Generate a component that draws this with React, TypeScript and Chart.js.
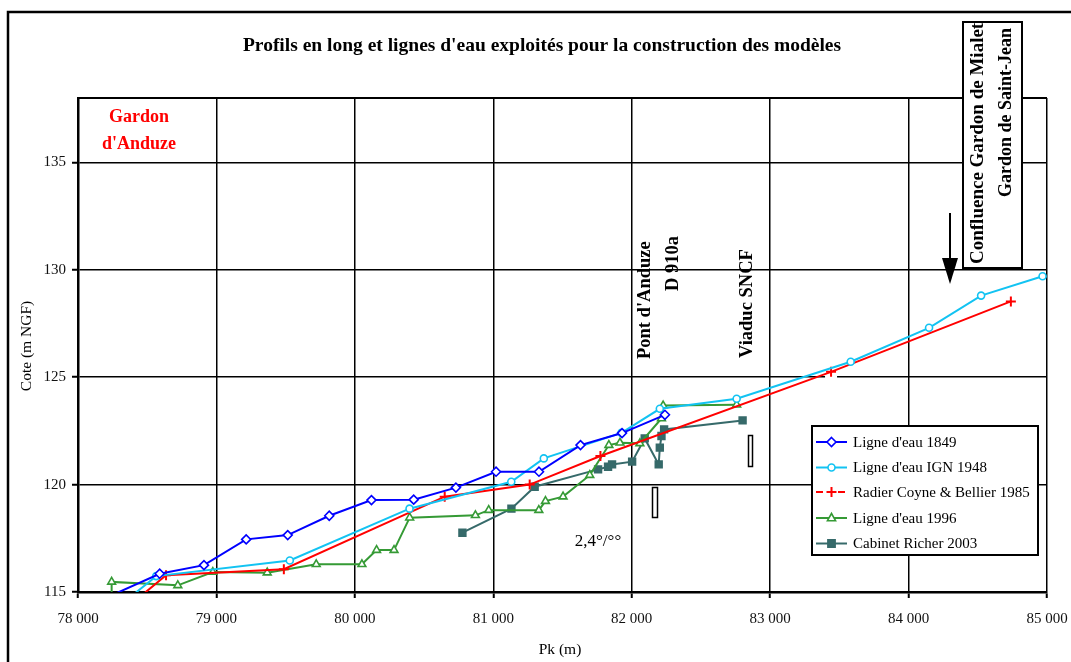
import React, { useEffect, useRef } from 'react';
import { Chart, registerables } from 'chart.js';

Chart.register(...registerables);

// ---------- data (Pk in m, Cote in m NGF) ----------
const pk1849 = [78020, 78590, 78910, 79215, 79515, 79815, 80120, 80425, 80730, 81020, 81330, 81630, 81930, 82240];
const cote1849 = [114.2, 115.85, 116.25, 117.45, 117.65, 118.55, 119.28, 119.3, 119.86, 120.6, 120.6, 121.84, 122.4, 123.25];

const pk1948 = [78270, 78565, 79530, 80395, 81130, 81365, 81926, 82203, 82758, 83582, 84148, 84524, 84968];
const cote1948 = [114.2, 115.74, 116.47, 118.88, 120.13, 121.22, 122.41, 123.53, 124.0, 125.72, 127.3, 128.8, 129.7];

const pk1985 = [78340, 78636, 79487, 80649, 81263, 81774, 83440, 84739];
const cote1985 = [114.2, 115.78, 116.06, 119.44, 120.0, 121.33, 125.25, 128.53];

const pk1996 = [78243, 78243, 78721, 78974, 79367, 79721, 80051, 80157, 80283, 80396, 80871, 80967, 81329, 81377, 81504, 81697, 81835, 81915, 82059, 82215, 82227, 82758];
const cote1996 = [114.0, 115.47, 115.31, 115.93, 115.9, 116.29, 116.29, 116.95, 116.95, 118.46, 118.57, 118.81, 118.81, 119.23, 119.44, 120.44, 121.84, 121.95, 121.92, 123.08, 123.68, 123.72];

const pk2003 = [80777, 81131, 81299, 81757, 81829, 81858, 82003, 82094, 82195, 82203, 82215, 82234, 82801];
const cote2003 = [117.76, 118.88, 119.9, 120.71, 120.83, 120.94, 121.07, 122.15, 120.94, 121.72, 122.26, 122.57, 122.99];

const seriesLabels = ["Ligne d'eau 1849", "Ligne d'eau IGN 1948", 'Radier Coyne & Bellier 1985', "Ligne d'eau 1996", 'Cabinet Richer 2003'];

const xMin = 78000;
const xMax = 85000;
const xStep = 1000;
const yMin = 115;
const yMax = 138;
const yStep = 5;

const TITLE = "Profils en long et lignes d'eau exploités pour la construction des modèles";
const X_TITLE = 'Pk (m)';
const Y_TITLE = 'Cote (m NGF)';

const FONT = "'Liberation Serif', 'Times New Roman', serif";

function toPoints(xs: number[], ys: number[]) {
  return xs.map((x, i) => ({ x, y: ys[i] }));
}

function fmtPk(v: number) {
  const th = Math.floor(v / 1000);
  const rest = String(Math.round(v % 1000)).padStart(3, '0');
  return `${th} ${rest}`;
}

const styles = [
  { color: '#0000FF', point: 'rectRot', radius: 4.5, fill: '#FFFFFF' },
  { color: '#12C3F2', point: 'circle', radius: 3.5, fill: '#FFFFFF' },
  { color: '#FF0000', point: 'cross', radius: 5, fill: '#FF0000' },
  { color: '#359A35', point: 'triangle', radius: 4.5, fill: '#FFFFFF' },
  { color: '#366A6A', point: 'rect', radius: 4.8, fill: '#366A6A' },
];

const seriesData = [
  toPoints(pk1849, cote1849),
  toPoints(pk1948, cote1948),
  toPoints(pk1985, cote1985),
  toPoints(pk1996, cote1996),
  toPoints(pk2003, cote2003),
];

function drawMarker(ctx: CanvasRenderingContext2D, kind: string, x: number, y: number, r: number, color: string, fill: string) {
  ctx.save();
  ctx.strokeStyle = color;
  ctx.fillStyle = fill;
  ctx.lineWidth = 1.6;
  ctx.beginPath();
  if (kind === 'rectRot') {
    ctx.moveTo(x, y - r); ctx.lineTo(x + r, y); ctx.lineTo(x, y + r); ctx.lineTo(x - r, y); ctx.closePath();
    ctx.fill(); ctx.stroke();
  } else if (kind === 'circle') {
    ctx.arc(x, y, r, 0, Math.PI * 2); ctx.fill(); ctx.stroke();
  } else if (kind === 'cross') {
    ctx.lineWidth = 2;
    ctx.moveTo(x - r, y); ctx.lineTo(x + r, y); ctx.moveTo(x, y - r); ctx.lineTo(x, y + r); ctx.stroke();
  } else if (kind === 'triangle') {
    ctx.moveTo(x, y - r); ctx.lineTo(x + r * 0.9, y + r * 0.6); ctx.lineTo(x - r * 0.9, y + r * 0.6); ctx.closePath();
    ctx.fill(); ctx.stroke();
  } else {
    ctx.rect(x - r * 0.75, y - r * 0.75, r * 1.5, r * 1.5); ctx.fill(); ctx.stroke();
  }
  ctx.restore();
}

function vtext(ctx: CanvasRenderingContext2D, text: string, x: number, yStart: number) {
  ctx.save();
  ctx.translate(x, yStart);
  ctx.rotate(-Math.PI / 2);
  ctx.textAlign = 'left';
  ctx.textBaseline = 'middle';
  ctx.fillText(text, 0, 0);
  ctx.restore();
}

const decorPlugin = {
  id: 'decor',
  beforeDraw(chart: any) {
    const ctx = chart.ctx;
    ctx.save();
    ctx.fillStyle = '#FFFFFF';
    ctx.fillRect(0, 0, chart.width, chart.height);
    ctx.restore();
  },
  beforeDatasetsDraw(chart: any) {
    const ctx = chart.ctx;
    const xs = chart.scales.x;
    const ys = chart.scales.y;
    // white patch behind a radier marker on the 125 grid line
    ctx.save();
    ctx.fillStyle = '#FFFFFF';
    const px = xs.getPixelForValue(pk1985[6]);
    const py = ys.getPixelForValue(cote1985[6]);
    ctx.fillRect(px - 6, py, 12, 9);
    ctx.restore();
  },
  afterDraw(chart: any) {
    const ctx: CanvasRenderingContext2D = chart.ctx;
    const a = chart.chartArea;
    ctx.save();
    // top border of plot
    ctx.strokeStyle = '#000';
    ctx.lineWidth = 2;
    ctx.beginPath();
    ctx.moveTo(a.left, a.top);
    ctx.lineTo(a.right, a.top);
    ctx.stroke();

    // outer frame
    ctx.lineWidth = 2.5;
    ctx.strokeRect(8, 12, 1300, 900);

    // title
    ctx.fillStyle = '#000';
    ctx.textAlign = 'center';
    ctx.textBaseline = 'middle';
    ctx.font = `bold 19.5px ${FONT}`;
    ctx.fillText(TITLE, 542, 46);

    // axis titles
    ctx.font = `15.5px ${FONT}`;
    ctx.fillText(X_TITLE, 560, 650);
    ctx.save();
    ctx.translate(27, 346);
    ctx.rotate(-Math.PI / 2);
    ctx.fillText(Y_TITLE, 0, 0);
    ctx.restore();

    // river name
    ctx.fillStyle = '#FF0000';
    ctx.font = `bold 18px ${FONT}`;
    ctx.fillText('Gardon', 139, 117);
    ctx.fillText("d'Anduze", 139, 144);

    // structure labels
    ctx.fillStyle = '#000';
    ctx.font = `bold 18.5px ${FONT}`;
    vtext(ctx, "Pont d'Anduze", 645, 359);
    vtext(ctx, 'D 910a', 673, 291);
    vtext(ctx, 'Viaduc SNCF', 747, 358);

    // confluence box
    ctx.fillStyle = '#FFFFFF';
    ctx.fillRect(963, 22, 59, 246);
    ctx.strokeStyle = '#000';
    ctx.lineWidth = 2;
    ctx.strokeRect(963, 22, 59, 246);
    ctx.save();
    ctx.beginPath();
    ctx.rect(964, 23, 57, 244);
    ctx.clip();
    ctx.fillStyle = '#000';
    ctx.font = `bold 19px ${FONT}`;
    vtext(ctx, 'Confluence Gardon de Mialet', 978, 264);
    ctx.font = `bold 18px ${FONT}`;
    vtext(ctx, 'Gardon de Saint-Jean', 1006, 197);
    ctx.restore();

    // arrow
    ctx.strokeStyle = '#000';
    ctx.lineWidth = 2;
    ctx.beginPath();
    ctx.moveTo(950, 213);
    ctx.lineTo(950, 262);
    ctx.stroke();
    ctx.fillStyle = '#000';
    ctx.beginPath();
    ctx.moveTo(942, 258);
    ctx.lineTo(958, 258);
    ctx.lineTo(950, 284);
    ctx.closePath();
    ctx.fill();

    // slope label
    ctx.font = `17px ${FONT}`;
    ctx.textAlign = 'center';
    ctx.fillText('2,4°/°°', 598, 542);

    // small bridge rectangles
    ctx.fillStyle = '#FFFFFF';
    ctx.lineWidth = 1.5;
    ctx.fillRect(652.5, 487.5, 5, 30);
    ctx.strokeRect(652.5, 487.5, 5, 30);
    ctx.fillRect(748.5, 435.5, 4, 31);
    ctx.strokeRect(748.5, 435.5, 4, 31);

    // legend
    const lx = 812, ly = 426, lw = 226, lh = 129;
    ctx.fillStyle = '#FFFFFF';
    ctx.fillRect(lx, ly, lw, lh);
    ctx.strokeStyle = '#000';
    ctx.lineWidth = 2;
    ctx.strokeRect(lx, ly, lw, lh);
    const rows = [442, 467.5, 492, 518, 543.5];
    ctx.font = `15px ${FONT}`;
    ctx.textAlign = 'left';
    ctx.textBaseline = 'middle';
    seriesLabels.forEach((lab, i) => {
      const s = styles[i];
      const y = rows[i];
      ctx.strokeStyle = s.color;
      ctx.lineWidth = 2;
      if (i === 2) ctx.setLineDash([7, 4]);
      ctx.beginPath();
      ctx.moveTo(816, y);
      ctx.lineTo(847, y);
      ctx.stroke();
      ctx.setLineDash([]);
      drawMarker(ctx, s.point, 831.5, y, s.radius, s.color, s.fill);
      ctx.fillStyle = '#000';
      ctx.fillText(lab, 853, y + 1);
    });
    ctx.restore();
  },
};

export default function App() {
  const ref = useRef<HTMLCanvasElement | null>(null);

  useEffect(() => {
    if (!ref.current) return;
    const datasets = seriesData.map((data, i) => {
      const s = styles[i];
      return {
        label: seriesLabels[i],
        data,
        showLine: true,
        borderColor: s.color,
        backgroundColor: s.fill,
        borderWidth: 2,
        pointStyle: s.point,
        pointRadius: s.radius,
        pointBorderWidth: i === 2 ? 2 : 1.6,
        pointBorderColor: s.color,
        pointBackgroundColor: s.fill,
        tension: 0,
      };
    });
    const chart = new Chart(ref.current, {
      type: 'scatter',
      data: { datasets },
      options: {
        animation: false,
        responsive: false,
        maintainAspectRatio: false,
        devicePixelRatio: 1,
        layout: { padding: { left: 0, top: 98, right: 24, bottom: 0 } },
        plugins: {
          legend: { display: false },
          title: { display: false },
          tooltip: { enabled: false },
        },
        scales: {
          x: {
            type: 'linear',
            min: xMin,
            max: xMax,
            ticks: {
              stepSize: xStep,
              callback: (v: any) => fmtPk(Number(v)),
              font: { family: FONT, size: 15 },
              color: '#111',
              padding: 12,
              maxRotation: 0,
              autoSkip: false,
            },
            grid: { color: '#000', lineWidth: 1.5, tickLength: 6, tickWidth: 2, tickColor: '#000' },
            border: { color: '#000', width: 2.5 },
            afterFit: (s: any) => { s.height = 70; s.paddingLeft = 0; s.paddingRight = 0; },
          },
          y: {
            type: 'linear',
            min: yMin,
            max: yMax,
            ticks: {
              stepSize: yStep,
              includeBounds: false,
              font: { family: FONT, size: 15 },
              color: '#111',
              padding: 6,
            },
            grid: { color: '#000', lineWidth: 1.5, tickLength: 6, tickWidth: 2, tickColor: '#000' },
            border: { color: '#000', width: 2.5 },
            afterFit: (s: any) => { s.width = 78; s.paddingTop = 0; s.paddingBottom = 0; },
          },
        },
      },
      plugins: [decorPlugin],
    } as any);
    return () => chart.destroy();
  }, []);

  return (
    <div style={{ position: 'absolute', left: 0, top: 0, width: 1071, height: 662, background: '#fff' }}>
      <canvas ref={ref} width={1071} height={662} style={{ display: 'block', width: 1071, height: 662 }} />
    </div>
  );
}
